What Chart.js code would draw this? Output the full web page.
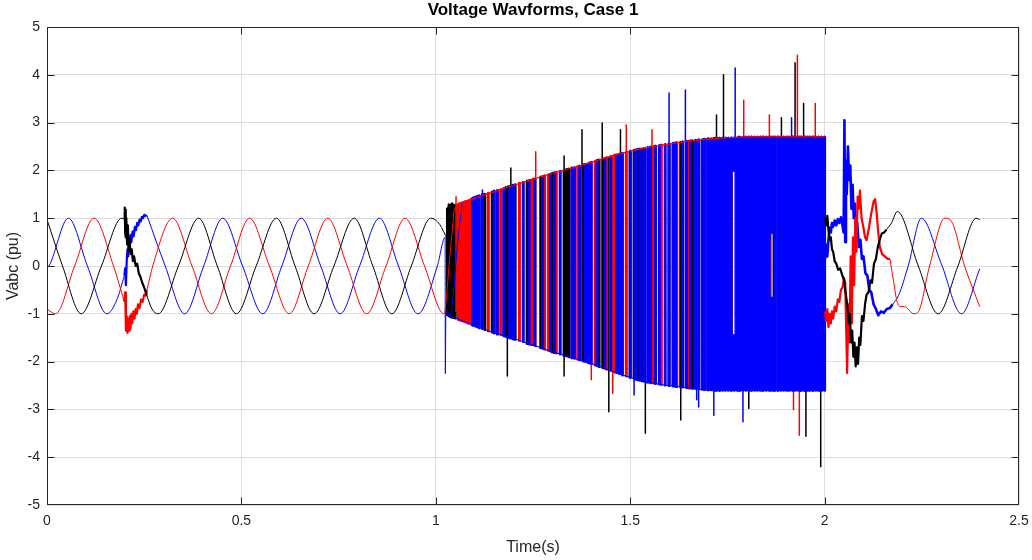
<!DOCTYPE html>
<html><head><meta charset="utf-8">
<script src="https://cdn.jsdelivr.net/npm/chart.js@4.4.1/dist/chart.umd.min.js"></script>
<style>html,body{margin:0;padding:0;background:#fff}canvas{display:block}</style>
</head><body>
<canvas id="c" width="1032" height="560"></canvas>
<script>
// ---- axis ticks ----
const xTicks = [0, 0.5, 1, 1.5, 2, 2.5];
const xTickLabels = ['0', '0.5', '1', '1.5', '2', '2.5'];
const yTicks = [-5, -4, -3, -2, -1, 0, 1, 2, 3, 4, 5];
const yTickLabels = ['-5', '-4', '-3', '-2', '-1', '0', '1', '2', '3', '4', '5'];

// ---- phase A (black) ----
const bkT1 = [0, 0.040, 0.088, 0.140, 0.192, 0.199];
const bkV1 = [0.97, 0, -1, 0, 1, 0.98];
const bkT2 = [0.199,0.200,0.201,0.202,0.203,0.204,0.206,0.208,0.210,0.212,0.215,0.218,0.221,0.224,0.228,0.232,0.236,0.240,0.245,0.250,0.254,0.257];
const bkV2 = [0.98,1.22,0.7,1.18,0.6,1.0,0.45,0.85,0.3,0.6,0.25,0.35,0.1,0.2,0.0,0.05,-0.15,-0.22,-0.35,-0.45,-0.55,-0.62];
const bkT3 = [0.257,0.270,0.286,0.338,0.390,0.438,0.487,0.538,0.590,0.638,0.687,0.738,0.790,0.838,0.887,0.937,0.987,1.010,1.030];
const bkV3 = [-0.62,-0.9,-1,0,1,0,-1,0,1,0,-1,0,1,0,-1,0,1,0.87,0.55];
const bkDT = [1.030,1.034,1.038,1.042,1.046,1.050,1.075,1.126,1.145,1.180, 1.186,1.192,1.198,1.204,1.235,1.270,1.300,1.330,1.336,1.342, 1.380,1.420,1.430,1.500,1.510,1.520,1.530,1.600,1.630,1.660, 1.690,1.720,1.730,1.780,1.840,1.870,1.880,1.920,1.940,1.950, 1.970];
const bkDHi = [1.20,1.28,1.25,1.30,1.26,1.27,1.34,1.50,1.55,1.64, 1.66,1.67,1.69,1.70,1.78,1.86,1.94,2.00,2.02,2.03, 2.12,2.22,2.24,2.40,2.42,2.44,2.45,2.55,2.59,2.62, 2.65,2.67,2.67,2.70,2.70,2.70,2.70,2.70,2.70,2.70, 2.70];
const bkDLo = [-1.02,-1.04,-1.06,-1.07,-1.08,-1.09,-1.16,-1.33,-1.38,-1.47, -1.49,-1.50,-1.52,-1.53,-1.62,-1.71,-1.80,-1.87,-1.88,-1.90, -1.99,-2.10,-2.13,-2.33,-2.35,-2.38,-2.40,-2.50,-2.53,-2.56, -2.58,-2.60,-2.60,-2.60,-2.60,-2.60,-2.60,-2.60,-2.60,-2.60, -2.60];
const bkST = [1.184,1.193,1.330,1.376,1.428,1.445,1.475,1.539,1.630,1.722,1.740,1.805,1.889,1.924,1.946,1.952,1.990];
const bkSLo = [-2.30,-1.50,-2.30,-1.98,-2.12,-3.05,-2.26,-3.50,-3.22,-2.60,-2.60,-2.98,-2.60,-2.60,-2.60,-3.56,-4.20];
const bkSHi = [1.66,2.05,2.30,2.85,2.99,2.27,2.85,2.47,2.59,3.16,4.00,2.70,3.10,4.25,3.40,2.70,2.70];
const bkT5 = [2.001,2.004,2.007,2.010,2.013,2.016,2.019,2.022,2.026,2.030, 2.035,2.040,2.045,2.050,2.054,2.058,2.062,2.065,2.068,2.071, 2.074,2.077,2.080,2.083,2.086,2.089,2.092,2.096,2.100,2.104, 2.108,2.113,2.118,2.122,2.127,2.132,2.137,2.142,2.147,2.153, 2.159];
const bkV5 = [1.00,0.85,1.05,0.75,0.55,0.60,0.35,0.30,0.10,0.05, -0.08,-0.05,-0.18,-0.30,-0.55,-0.80,-1.20,-1.00,-1.60,-1.35, -1.90,-1.60,-2.10,-1.70,-2.05,-1.50,-1.65,-1.05,-1.15,-0.80, -0.60,-0.55,-0.30,-0.35,0.05,0.15,0.40,0.55,0.68,0.70, 0.76];
const bkT6 = [2.159,2.172,2.187,2.241,2.292,2.343,2.390,2.399];
const bkV6 = [0.76,0.90,1.14,0,-1.0,0,1.0,0.97];

// ---- phase B (red) ----
const rdT1 = [0, 0.022, 0.071, 0.121, 0.171, 0.199];
const rdV1 = [-0.9, -1, 0, 1, 0, -0.75];
const rdT2 = [0.199,0.201,0.203,0.205,0.207,0.209,0.211,0.213,0.215,0.217,0.219,0.222,0.225,0.228,0.231,0.234,0.238,0.242,0.246,0.250,0.254,0.257];
const rdV2 = [-0.75,-0.55,-1.35,-1.05,-1.4,-1.1,-1.35,-1.05,-1.3,-1.0,-1.2,-0.95,-1.1,-0.9,-1.0,-0.8,-0.88,-0.7,-0.75,-0.6,-0.62,-0.5];
const rdT3 = [0.257,0.272,0.323,0.373,0.423,0.472,0.521,0.572,0.623,0.672,0.722,0.772,0.822,0.872,0.921,0.971,1.021,1.035,1.047];
const rdV3 = [-0.5,0,1,0,-1,0,1,0,-1,0,1,0,-1,0,1,0,-1,0.1,1.17];
const rdDT = [1.058,1.062,1.066,1.070,1.074,1.078,1.082,1.086,1.090,1.094, 1.135,1.160,1.168,1.215,1.245,1.251,1.280,1.290,1.310,1.350, 1.365,1.395,1.410,1.440,1.460,1.490,1.560,1.580,1.620,1.650, 1.700,1.760,1.810,1.860,1.905,1.935,1.960,1.985];
const rdDHi = [1.29,1.31,1.32,1.33,1.34,1.35,1.36,1.37,1.39,1.40, 1.52,1.58,1.60,1.73,1.80,1.82,1.89,1.91,1.96,2.05, 2.08,2.16,2.19,2.27,2.32,2.38,2.50,2.53,2.58,2.61, 2.66,2.68,2.70,2.70,2.70,2.70,2.70,2.70];
const rdDLo = [-1.12,-1.13,-1.14,-1.15,-1.16,-1.17,-1.19,-1.20,-1.21,-1.23, -1.36,-1.42,-1.44,-1.56,-1.64,-1.65,-1.74,-1.77,-1.82,-1.92, -1.95,-2.03,-2.07,-2.16,-2.22,-2.30,-2.45,-2.48,-2.52,-2.55, -2.59,-2.60,-2.60,-2.60,-2.60,-2.60,-2.60,-2.60];
const rdST = [1.052,1.257,1.400,1.455,1.490,1.556,1.792,1.858,1.920,1.930,1.935,1.976];
const rdSLo = [-0.95,-1.68,-2.38,-2.66,-2.30,-2.45,-2.60,-2.60,-3.00,-2.60,-3.54,-2.60];
const rdSHi = [1.45,2.39,2.17,2.30,2.95,2.85,3.47,3.16,2.70,4.41,2.70,3.40];
const rdET = [1.047,1.06,1.08,1.10,1.12,1.14,1.16,1.18,1.20,1.22,1.24,1.26,1.28,1.30,1.32,1.34,1.36,1.38,1.40,1.42,1.44,1.46,1.48,1.50,1.52,1.54,1.56,1.58,1.60,1.62,1.64,1.66,1.68,1.70,1.72,1.74,1.80,1.90,2.00];
const rdEV = [1.17,1.30,1.36,1.42,1.48,1.53,1.58,1.64,1.69,1.74,1.79,1.84,1.89,1.94,1.98,2.03,2.07,2.12,2.17,2.22,2.27,2.32,2.36,2.40,2.44,2.47,2.50,2.53,2.55,2.58,2.60,2.62,2.64,2.66,2.67,2.68,2.70,2.70,2.70];
const rdT5 = [2.001,2.004,2.007,2.010,2.013,2.016,2.019,2.022,2.026,2.030, 2.034,2.038,2.042,2.046,2.050,2.053,2.056,2.058,2.061,2.064, 2.067,2.070,2.073,2.076,2.079,2.082,2.085,2.088,2.091,2.095, 2.100,2.104,2.108,2.114,2.120,2.126,2.130,2.134,2.138,2.142, 2.148,2.155,2.162,2.168];
const rdV5 = [-0.95,-1.15,-0.90,-1.28,-1.00,-1.20,-0.95,-1.10,-0.85,-0.95, -0.70,-0.75,-0.50,-0.45,-0.25,-0.35,-1.50,-2.24,-0.80,-1.60, 0.20,-1.20,0.60,-0.40,1.00,0.30,1.45,1.20,1.58,1.00, 0.80,0.60,0.54,0.80,1.10,1.35,1.40,1.10,0.70,0.40, 0.25,0.20,0.15,0.15];
const rdT6 = [2.168,2.178,2.185,2.194,2.205,2.215,2.228,2.240,2.270,2.309,2.325,2.360,2.399];
const rdV6 = [0.15,-0.35,-0.70,-0.85,-0.85,-0.90,-1.00,-0.97,0.00,1.00,0.95,0.00,-0.85];

// ---- phase C (blue) ----
const blT1 = [0, 0.005, 0.055, 0.104, 0.154, 0.180, 0.199];
const blV1 = [-0.03, 0, 1, 0, -1, -0.7, -0.2];
const blT2 = [0.199,0.201,0.203,0.205,0.207,0.209,0.211,0.213,0.215,0.217,0.220,0.223,0.226,0.229,0.232,0.235,0.238,0.241,0.244,0.247,0.250,0.253,0.257];
const blV2 = [-0.2,-0.05,-0.4,0.1,0.35,0.2,0.55,0.4,0.65,0.5,0.72,0.62,0.82,0.75,0.9,0.85,0.97,0.93,1.03,1.0,1.07,1.05,1.06];
const blT3 = [0.257,0.304,0.354,0.403,0.452,0.503,0.555,0.604,0.654,0.704,0.754,0.804,0.855,0.904,0.954,1.004,1.024,1.0245,1.026,1.035,1.045,1.055,1.068];
const blV3 = [1.06,0,-1,0,1,0,-1,0,1,0,-1,0,1,0,-1,0,0.6,-2.25,-0.9,-1.05,-0.6,0.4,1.3];
const blDT = [1.095,1.100,1.106,1.112,1.120,1.150,1.158,1.175,1.190,1.200,
  1.225,1.240,1.255,1.275,1.295,1.305,1.320,1.350,1.357,1.370,
  1.385,1.392,1.400,1.415,1.435,1.450,1.465,1.472,1.480,1.500,
  1.515,1.525,1.535,1.545,1.552,1.565,1.575,1.590,1.600,1.610,
  1.617,1.635,1.645,1.655,1.668,1.676,1.685,1.692,1.700,1.7075,
  1.715,1.7225,1.730,1.7375,1.745,1.7525,1.760,1.775,1.7825,1.790,
  1.7975,1.805,1.8125,1.820,1.8275,1.835,1.8425,1.850,1.8575,1.872,
  1.880,1.8875,1.895,1.9025,1.910,1.9175,1.925,1.9325,1.940,1.9475,
  1.955,1.9625,1.970,1.9775,1.985,1.9925,2.000,
  1.7675,1.7675,1.865,1.865];
const blDHi = [1.42,1.44,1.46,1.47,1.50,1.57,1.58,1.62,1.66,1.69,
  1.75,1.79,1.82,1.87,1.92,1.95,1.98,2.05,2.06,2.09,
  2.13,2.14,2.17,2.21,2.25,2.29,2.33,2.34,2.36,2.40,
  2.43,2.45,2.46,2.48,2.49,2.51,2.52,2.54,2.55,2.57,
  2.58,2.60,2.61,2.62,2.63,2.64,2.64,2.65,2.66,2.66,
  2.67,2.67,2.67,2.68,2.68,2.68,2.68,2.68,2.69,2.69,
  2.70,2.70,2.70,2.70,2.70,2.70,2.70,2.70,2.70,2.70,
  2.70,2.70,2.70,2.70,2.70,2.70,2.70,2.70,2.70,2.70,
  2.70,2.70,2.70,2.70,2.70,2.70,2.70,
  2.68,-1.45,2.70,-0.67];
const blDLo = [-1.24,-1.25,-1.27,-1.29,-1.31,-1.40,-1.42,-1.46,-1.50,-1.52,
  -1.58,-1.63,-1.66,-1.72,-1.78,-1.81,-1.84,-1.92,-1.93,-1.96,
  -2.00,-2.02,-2.04,-2.08,-2.14,-2.18,-2.23,-2.25,-2.28,-2.33,
  -2.37,-2.39,-2.41,-2.43,-2.44,-2.46,-2.47,-2.49,-2.50,-2.51,
  -2.52,-2.53,-2.54,-2.55,-2.56,-2.57,-2.58,-2.58,-2.59,-2.59,
  -2.60,-2.60,-2.60,-2.60,-2.60,-2.60,-2.60,-2.60,-2.60,-2.60,
  -2.60,-2.60,-2.60,-2.60,-2.60,-2.60,-2.60,-2.60,-2.60,-2.60,
  -2.60,-2.60,-2.60,-2.60,-2.60,-2.60,-2.60,-2.60,-2.60,-2.60,
  -2.60,-2.60,-2.60,-2.60,-2.60,-2.60,-2.60,
  2.00,-2.60,0.70,-2.60];
const blST = [1.120,1.510,1.600,1.642,1.671,1.676,1.715,1.770,1.790,1.915];
const blSLo = [-1.31,-2.70,-2.50,-2.54,-2.80,-2.95,-3.12,-2.60,-3.26,-2.60];
const blSHi = [1.59,2.43,3.62,3.68,2.63,2.64,2.67,4.14,2.70,3.10];
const blET = [1.030,1.04,1.06,1.08,1.10,1.12,1.14,1.16,1.18,1.20,1.22,1.24,1.26,1.28,1.30,1.32,1.34,1.36,1.38,1.40,1.42,1.44,1.46,1.48,1.50,1.52,1.54,1.56,1.58,1.60,1.62,1.64,1.66,1.68,1.70,1.72,1.74,1.80,1.90,2.00];
const blEV = [-1.02,-1.06,-1.12,-1.18,-1.25,-1.31,-1.37,-1.42,-1.47,-1.52,-1.57,-1.63,-1.68,-1.74,-1.80,-1.84,-1.89,-1.94,-1.99,-2.04,-2.10,-2.16,-2.22,-2.28,-2.33,-2.38,-2.42,-2.45,-2.48,-2.50,-2.52,-2.54,-2.56,-2.58,-2.59,-2.60,-2.60,-2.60,-2.60,-2.60];
const blT5 = [2.001,2.004,2.007,2.010,2.013,2.016,2.019,2.022,2.026,2.030, 2.034,2.038,2.042,2.046,2.049,2.051,2.053,2.055,2.057,2.060, 2.063,2.066,2.069,2.072,2.075,2.078,2.081,2.084,2.088,2.092, 2.096,2.100,2.105,2.110,2.115,2.120,2.126,2.132,2.138,2.145, 2.152,2.160,2.168,2.175];
const blV5 = [0.15,0.45,0.20,0.55,0.80,0.70,0.90,0.82,0.95,0.85, 0.98,0.90,1.02,0.85,0.70,3.05,0.50,2.20,1.50,2.50, 1.80,2.10,1.20,1.70,1.00,1.30,0.70,0.90,0.40,0.55, 0.15,0.20,-0.15,-0.20,-0.50,-0.55,-0.80,-0.90,-1.03,-0.95, -0.98,-0.90,-0.88,-0.80];
const blT6 = [2.175,2.190,2.215,2.249,2.300,2.352,2.399];
const blV6 = [-0.80,-0.62,0.00,1.00,0.05,-1.00,-0.06];

// ---- helpers to build library data ----
const BLACK = '#000000', RED = '#ff0000', BLUE = '#0000ff';
function pts(T, V) { return T.map((t, i) => ({ x: t, y: V[i] })); }
function strokes(T, Hi, Lo) {
  const order = T.map((t, i) => i).sort((a, b) => T[a] - T[b]);
  const out = [];
  order.forEach(i => { out.push({ x: T[i], y: Hi[i] }, { x: T[i], y: Lo[i] }, { x: T[i], y: null }); });
  return out;
}
function ds(data, color, width, order, smooth) {
  return {
    data, borderColor: color, backgroundColor: color, borderWidth: width, order,
    pointRadius: 0, pointHoverRadius: 0, fill: false, spanGaps: false,
    tension: 0, cubicInterpolationMode: smooth ? 'monotone' : 'default',
    borderCapStyle: 'butt', borderJoinStyle: 'round'
  };
}

const datasets = [
  ds(strokes(bkDT, bkDHi, bkDLo), BLACK, 3, 40, false),
  ds(strokes(rdDT, rdDHi, rdDLo), RED, 3, 39, false),
  ds(strokes(bkST, bkSHi, bkSLo), BLACK, 1.5, 38, false),
  ds(strokes(rdST, rdSHi, rdSLo), RED, 1.5, 37, false),
  ds(strokes(blDT, blDHi, blDLo), BLUE, 3, 36, false),
  ds(strokes(blST, blSHi, blSLo), BLUE, 1.5, 35, false),
  ds(pts(blT1, blV1), BLUE, 1, 30, true),
  ds(pts(blT2, blV2), BLUE, 2.2, 29, false),
  ds(pts(blT3, blV3), BLUE, 1, 28, true),
  ds(pts(blT5, blV5), BLUE, 2.6, 27, false),
  ds(pts(blT6, blV6), BLUE, 1, 26, true),
  ds(pts(rdT1, rdV1), RED, 1, 25, true),
  ds(pts(rdT2, rdV2), RED, 2.2, 24, false),
  ds(pts(rdT3, rdV3), RED, 1, 23, true),
  ds(pts(rdT5, rdV5), RED, 2.2, 22, false),
  ds(pts(rdT6, rdV6), RED, 1, 21, true),
  ds(pts(bkT1, bkV1), BLACK, 1, 20, true),
  ds(pts(bkT2, bkV2), BLACK, 2.2, 19, false),
  ds(pts(bkT3, bkV3), BLACK, 1, 18, true),
  ds(pts(bkT5, bkV5), BLACK, 2.2, 17, false),
  ds(pts(bkT6, bkV6), BLACK, 1, 16, true),
  ds(pts(blET, blEV), BLUE, 1.2, 2, false),
  ds(pts(rdET, rdEV), RED, 1.2, 1, false)
];

const FONT = "'Liberation Sans', Arial, Helvetica, sans-serif";
const AXIS = '#262626';

const boxPlugin = {
  id: 'matlabBox',
  afterDraw(chart) {
    const { ctx, chartArea: a, scales: { x, y } } = chart;
    const L = Math.round(a.left) + 0.5, R = Math.round(a.right) - 0.5;
    const T = Math.round(a.top) + 0.5, B = Math.round(a.bottom) - 0.5;
    ctx.save();
    ctx.strokeStyle = AXIS;
    ctx.lineWidth = 1;
    ctx.beginPath();
    ctx.rect(L, T, R - L, B - T);
    xTicks.forEach(v => {
      const p = Math.min(R, Math.max(L, Math.round(x.getPixelForValue(v)) + 0.5));
      ctx.moveTo(p, B); ctx.lineTo(p, B - 7);
      ctx.moveTo(p, T); ctx.lineTo(p, T + 7);
    });
    yTicks.forEach(v => {
      const p = Math.min(B, Math.max(T, Math.round(y.getPixelForValue(v)) + 0.5));
      ctx.moveTo(L, p); ctx.lineTo(L + 7, p);
      ctx.moveTo(R, p); ctx.lineTo(R - 7, p);
    });
    ctx.stroke();
    ctx.restore();
  }
};

new Chart(document.getElementById('c'), {
  type: 'line',
  data: { datasets },
  plugins: [boxPlugin],
  options: {
    responsive: false,
    devicePixelRatio: 1,
    animation: false,
    events: [],
    layout: { padding: { left: 0, right: 13, top: 0, bottom: 0 } },
    plugins: {
      legend: { display: false },
      tooltip: { enabled: false },
      title: {
        display: true,
        fullSize: false,
        text: 'Voltage Wavforms, Case 1',
        color: '#000',
        font: { family: FONT, size: 17, weight: 'bold', lineHeight: 1.2 },
        padding: { top: 0, bottom: 6.6 }
      }
    },
    scales: {
      x: {
        type: 'linear', min: 0, max: 2.5,
        afterBuildTicks: s => { s.ticks = xTicks.map(v => ({ value: v })); },
        afterFit: s => { s.height = 55; s.paddingLeft = 0; s.paddingRight = 0; },
        grid: { color: '#dedede', lineWidth: 1, drawTicks: false },
        border: { display: false },
        ticks: { color: AXIS, padding: 8, font: { family: FONT, size: 14 }, maxRotation: 0,
                 callback: (v, i) => xTickLabels[i] },
        title: { display: true, text: 'Time(s)', color: AXIS,
                 font: { family: FONT, size: 16 }, padding: { top: 2, bottom: 3 } }
      },
      y: {
        type: 'linear', min: -5, max: 5,
        afterBuildTicks: s => { s.ticks = yTicks.map(v => ({ value: v })); },
        afterFit: s => { s.width = 47; },
        grid: { color: '#dedede', lineWidth: 1, drawTicks: false },
        border: { display: false },
        ticks: { color: AXIS, padding: 7, font: { family: FONT, size: 14 },
                 callback: (v, i) => yTickLabels[i] },
        title: { display: true, text: 'Vabc (pu)', color: AXIS,
                 font: { family: FONT, size: 16 }, padding: { top: 4, bottom: 2 } }
      }
    }
  }
});
</script>
</body></html>
